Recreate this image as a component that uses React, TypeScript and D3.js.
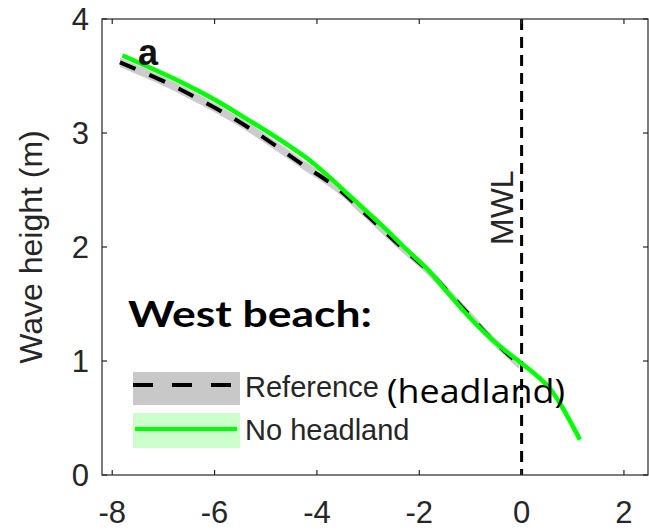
import React from "react";
import * as d3 from "d3";

// No headland run (green)
const noHeadX = [-7.8, -6.67, -6.03, -5.36, -4.72, -4.2, -3.8, -3.29, -2.71, -2.3, -1.83, -1.5, -1.01, -0.48, -0.03, 0.3, 0.55, 0.8, 1.14];
const noHeadY = [3.68, 3.45, 3.3, 3.12, 2.94, 2.78, 2.63, 2.42, 2.18, 2.0, 1.8, 1.63, 1.38, 1.15, 0.99, 0.87, 0.76, 0.59, 0.31];
const noHeadSpread = 0.025;

// Reference run (black dashed, with headland)
const refX = [-7.85, -6.93, -6.28, -5.56, -4.91, -4.27, -3.61, -3.0, -2.4, -1.8, -1.2, -0.6, -0.05];
const refY = [3.62, 3.44, 3.29, 3.11, 2.92, 2.72, 2.52, 2.27, 2.02, 1.78, 1.49, 1.2, 0.97];
const refSpread = 0.04;

const mwlX = 0;
const xTicks = [-8, -6, -4, -2, 0, 2];
const yTicks = [0, 1, 2, 3, 4];
const legendLabels = ["Reference", "No headland"];

const W = 649;
const H = 532;
const AX = "#262626";
const FONT = "'Liberation Sans', Arial, sans-serif";

export default function App() {
  const x = d3.scaleLinear().domain([-8.2, 2.47]).range([102, 648]);
  const y = d3.scaleLinear().domain([0, 4]).range([475, 19]);

  const zip = (xs: number[], ys: number[]) => xs.map((v, i) => [v, ys[i]] as [number, number]);
  const green = zip(noHeadX, noHeadY);
  const ref = zip(refX, refY);

  const line = d3
    .line<[number, number]>()
    .x((d) => x(d[0]))
    .y((d) => y(d[1]))
    .curve(d3.curveCatmullRom.alpha(0.5));

  const band = (s: number) =>
    d3
      .area<[number, number]>()
      .x((d) => x(d[0]))
      .y0((d) => y(d[1] - s))
      .y1((d) => y(d[1] + s))
      .curve(d3.curveCatmullRom.alpha(0.5));

  const [x0, x1] = x.range();
  const [yb, yt] = y.range();

  return (
    <svg width={W} height={H} style={{ position: "absolute", left: 0, top: 0, background: "#fff" }} fontFamily={FONT}>
      <rect width={W} height={H} fill="#fff" />

      {/* bands */}
      <path d={band(refSpread)(ref) || ""} fill="#cccccc" />
      <path d={band(noHeadSpread)(green) || ""} fill="#ccffcc" />

      {/* MWL */}
      <line x1={x(mwlX)} x2={x(mwlX)} y1={yt} y2={yb} stroke="#000" strokeWidth={3} strokeDasharray="11,7" />
      <text transform={`translate(${x(mwlX) - 9},245) rotate(-90)`} fontSize={32} fill={AX}>
        MWL
      </text>

      {/* curves */}
      <path d={line(ref) || ""} fill="none" stroke="#000" strokeWidth={4} strokeDasharray="17,15" />
      <path d={line(green) || ""} fill="none" stroke="#00ff00" strokeWidth={4.5} />

      {/* box + ticks */}
      <rect x={x0} y={yt} width={x1 - x0} height={yb - yt} fill="none" stroke={AX} strokeWidth={1.2} />
      {xTicks.map((t) => (
        <g key={"x" + t}>
          <line x1={x(t)} x2={x(t)} y1={yb} y2={yb - 5} stroke={AX} strokeWidth={1.2} />
          <line x1={x(t)} x2={x(t)} y1={yt} y2={yt + 5} stroke={AX} strokeWidth={1.2} />
          <text x={x(t)} y={523} textAnchor="middle" fontSize={31} fill={AX}>
            {t}
          </text>
        </g>
      ))}
      {yTicks.map((t) => (
        <g key={"y" + t}>
          <line x1={x0} x2={x0 + 5} y1={y(t)} y2={y(t)} stroke={AX} strokeWidth={1.2} />
          <line x1={x1} x2={x1 - 5} y1={y(t)} y2={y(t)} stroke={AX} strokeWidth={1.2} />
          <text x={89} y={y(t)} dy="0.36em" textAnchor="end" fontSize={31} fill={AX}>
            {t}
          </text>
        </g>
      ))}
      <text transform={`translate(42,${(yt + yb) / 2}) rotate(-90)`} textAnchor="middle" fontSize={32} fill={AX}>
        Wave height (m)
      </text>

      {/* panel letter */}
      <text x={138} y={65} fontSize={36} fontWeight="bold" fill="#111">
        a
      </text>

      {/* legend */}
      <rect x={133} y={372} width={107} height={33} fill="#c8c8c8" />
      <line x1={133} x2={237} y1={385} y2={385} stroke="#000" strokeWidth={4} strokeDasharray="20,19" />
      <rect x={133} y={413} width={107} height={35} fill="#ccffcc" />
      <line x1={135} x2={237} y1={429} y2={429} stroke="#00ff00" strokeWidth={4} />
      <text x={245} y={397} fontSize={29} fill={AX}>
        {legendLabels[0]}
      </text>
      <text x={245} y={440} fontSize={29} fill={AX}>
        {legendLabels[1]}
      </text>

      {/* annotations */}
      <text x={128} y={327} fontSize={37} fontWeight="bold" fontFamily="Lato, sans-serif" textLength={244} lengthAdjust="spacingAndGlyphs" fill="#000">
        West beach:
      </text>
      <text x={387} y={403} fontSize={33} fontWeight={400} fontFamily="'Open Sans', sans-serif" fill="#000" textLength={178} lengthAdjust="spacingAndGlyphs">
        (headland)
      </text>
    </svg>
  );
}
